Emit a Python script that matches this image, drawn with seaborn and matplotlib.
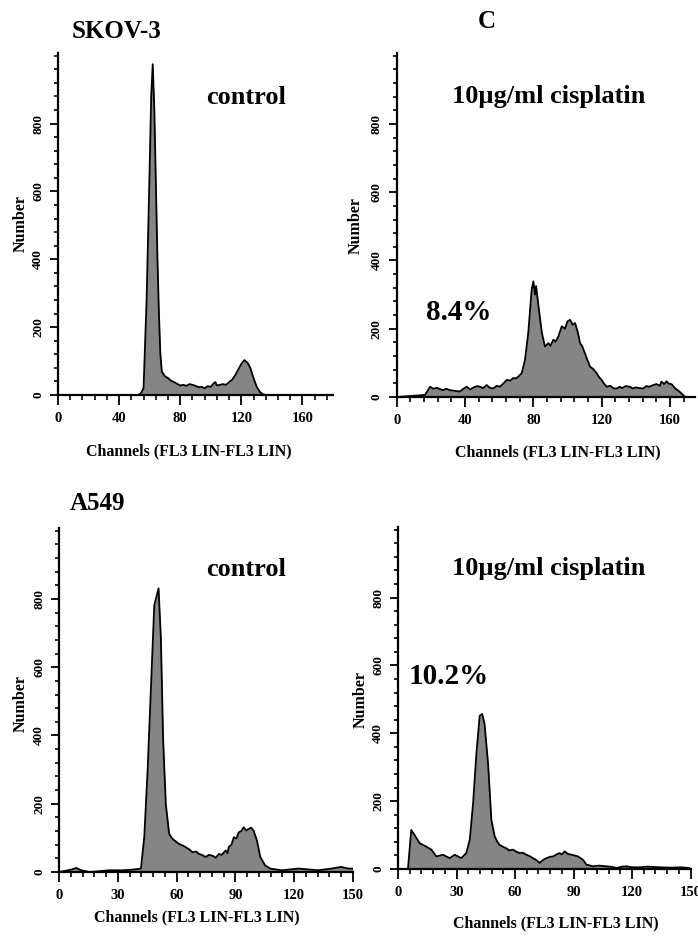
import numpy as np
import pandas as pd
import matplotlib
matplotlib.use("Agg")
import matplotlib.pyplot as plt
import seaborn as sns
from matplotlib.ticker import MultipleLocator

# ---------------- data ----------------
skov_ctrl_ch = [0, 52, 54, 56, 58, 60, 61, 62, 63, 64, 65, 66, 67, 68, 69, 70, 72, 74, 76, 78, 80,
                82, 84, 86, 88, 90, 92, 94, 96, 98, 100, 102, 103, 104, 106, 108, 110, 112, 114,
                116, 118, 120, 122, 124, 125, 126, 128, 130, 132, 134, 136]
skov_ctrl_n = [0, 0, 3, 20, 280, 670, 880, 975, 850, 640, 420, 250, 120, 68, 62, 55, 50, 42, 38, 33, 28,
               30, 27, 32, 30, 27, 23, 24, 20, 26, 24, 35, 38, 28, 30, 32, 30, 38, 45,
               58, 75, 92, 103, 95, 88, 78, 50, 25, 10, 2, 0]

skov_cis_ch = [0, 16.6, 19.5, 21.5, 23.4, 27, 29, 31.2, 34, 37, 39, 41, 43, 45, 47, 48.8, 50.5, 52.7,
               54.5, 56.6, 58.5, 60.5, 62.5, 64.4, 66.5, 68, 70.2, 73.2,
               75.1, 77, 79, 80, 81, 81.6, 83, 85, 86.8, 88.8, 90, 91.7, 93, 94.6, 96.6, 98.5, 100,
               101.5, 103, 104.4, 106, 107.3, 108.5, 110.2, 111.5, 113.2, 115, 117, 118.5, 120, 121.5,
               123, 125, 127, 128.8, 130.5, 132, 134, 136.6, 138, 140, 142, 144.4, 146, 148, 150.2,
               152, 154, 155, 156.5, 158, 159, 161, 163, 165, 166.8, 168.8]
skov_cis_n = [0, 6, 30, 24, 27, 20, 24, 20, 18, 16, 24, 30, 22, 28, 32, 30, 26, 35,
              27, 25, 33, 30, 40, 50, 48, 55, 55, 70,
              109, 187, 315, 339, 300, 325, 266, 187, 148, 158, 150, 168, 162, 177, 207, 200, 222,
              226, 212, 217, 190, 158, 150, 128, 110, 89, 82, 70, 58, 50, 38,
              30, 33, 25, 25, 30, 26, 32, 30, 25, 28, 26, 25, 32, 30, 35,
              38, 33, 45, 38, 46, 40, 37, 25, 18, 10, 0]

a549_ctrl_ch = [0, 6.3, 8.8, 11.3, 15.6, 25.7, 32.5, 37.6, 41.8, 43.5, 45.2, 46.9, 48.6, 50.8, 52,
                53.1, 54.5, 56.2, 57.9, 59.5, 61.3, 63, 64.6, 66.5, 68, 70, 71.4, 73, 74.8, 76.5,
                78.2, 80, 81.6, 83, 85, 86, 86.6, 88, 89.2, 90.5,
                91.7, 93, 94.2, 95.5, 96.8, 98, 99.3, 101, 102.7, 105.2, 107.8, 113.7, 122.2, 132.3,
                139, 144, 147.5, 150]
a549_ctrl_n = [0, 7, 12, 5, 0, 5, 5, 7, 10, 102, 296, 538, 781, 831, 684,
               393, 199, 112, 97, 90, 82, 78, 73, 66, 58, 60, 53, 50, 44, 50,
               48, 42, 53, 50, 63, 55, 73, 80, 102, 98,
               116, 120, 131, 122, 126, 130, 121, 92, 44, 19, 10, 5, 10, 5,
               10, 15, 10, 10]

a549_cis_ch = [0, 5.1, 6.8, 8.5, 11.1, 14.5, 17.1, 19.7, 23.1, 26.5, 29.1, 32.5, 35, 36.8, 38.5,
               40.2, 41.9, 43.2, 44.4, 46.2, 47.9, 49.6, 51, 52.1, 54, 55.6, 57, 59, 61, 62.4, 64,
               65.8, 67.5, 69.2, 71, 72.6, 74.5, 76.1, 78, 79.5, 81, 82.9, 84, 85.5, 87, 88.9, 90.5,
               92.3, 94.9, 96.6, 100, 103, 106.8, 110, 112, 115, 117.1, 120, 123.9, 128,
               134.2, 140, 145, 149.6]
a549_cis_n = [0, 0, 115, 100, 76, 66, 57, 37, 42, 32, 42, 32, 47, 86, 193,
              340, 452, 457, 427, 310, 144, 96, 80, 71, 65, 61, 55, 57, 50, 47, 48,
              42, 38, 32, 26, 18, 27, 32, 36, 37, 42, 47, 43, 52, 45, 42, 40,
              37, 27, 13, 8, 10, 8, 6, 3, 7, 8, 5, 5, 7,
              5, 4, 5, 3]

cell_lines = ["SKOV-3", "A549"]
conditions = ["control", "10\u00b5g/ml cisplatin"]
percent_labels = ["8.4%", "10.2%"]
panel_label = "C"
x_label = "Channels (FL3 LIN-FL3 LIN)"
y_label = "Number"

# ---------------- style ----------------
sns.set_theme(style="ticks")
plt.rcParams['font.family'] = ['Liberation Serif', 'DejaVu Serif']
plt.rcParams['font.weight'] = 'bold'
plt.rcParams['text.color'] = 'black'
plt.rcParams['axes.labelcolor'] = 'black'
plt.rcParams['xtick.color'] = 'black'
plt.rcParams['ytick.color'] = 'black'

W, H = 698, 936
fig = plt.figure(figsize=(W / 100, H / 100), dpi=100)
fig.patch.set_facecolor("white")


def fx(x):
    return x / W


def fy(y):
    return 1 - y / H


def add_ax(l, r, t, b):
    return fig.add_axes([l / W, 1 - b / H, (r - l) / W, (b - t) / H])


panels = [
    # l, r, t, b, xmax, major, minor, ch, n
    (58, 333, 53, 395, 180, 40, 8, skov_ctrl_ch, skov_ctrl_n),
    (396.7, 695, 53, 397, 174.6, 40, 8, skov_cis_ch, skov_cis_n),
    (59, 353, 528, 872, 150, 30, 6, a549_ctrl_ch, a549_ctrl_n),
    (398, 690.5, 527, 869, 150, 30, 6, a549_cis_ch, a549_cis_n),
]

for (l, r, t, b, xmax, maj, mnr, ch, n) in panels:
    ax = add_ax(l, r, t, b)
    df = pd.DataFrame({"ch": ch, "n": n})
    ax.fill_between(df["ch"], df["n"], 0, color="#858585", lw=0, zorder=1)
    sns.lineplot(data=df, x="ch", y="n", ax=ax, color="black", lw=1.3,
                 estimator=None, sort=False, zorder=2)
    ax.set_xlim(0, xmax)
    ax.set_ylim(0, 1008)
    ax.set_xlabel("")
    ax.set_ylabel("")
    ax.set_facecolor("white")
    sns.despine(ax=ax)
    for s in ["left", "bottom"]:
        ax.spines[s].set_linewidth(1.6)
        ax.spines[s].set_color("black")
    ax.xaxis.set_major_locator(MultipleLocator(maj))
    ax.xaxis.set_minor_locator(MultipleLocator(mnr))
    ax.yaxis.set_minor_locator(MultipleLocator(40))
    ax.set_yticks([0, 200, 400, 600, 800])
    ax.tick_params(axis="x", which="major", length=7, width=1.3, direction="out",
                   labelsize=10.5, pad=5, colors="black")
    ax.tick_params(axis="x", which="minor", length=3.5, width=1.2, direction="out")
    ax.tick_params(axis="y", which="major", length=6, width=1.3, direction="out",
                   labelsize=9.5, pad=4, colors="black")
    ax.tick_params(axis="y", which="minor", length=3, width=1.2, direction="out")
    for lab in ax.get_yticklabels():
        lab.set_rotation(90)
        lab.set_va("center")
        lab.set_fontweight("bold")
    for lab in ax.get_xticklabels():
        lab.set_fontweight("bold")

# ---------------- texts ----------------
fig.text(fx(72), fy(32), cell_lines[0], ha="left", va="center", fontsize=18, fontweight="bold")
fig.text(fx(70), fy(503), cell_lines[1], ha="left", va="center", fontsize=18, fontweight="bold")
fig.text(fx(487), fy(22), panel_label, ha="center", va="center", fontsize=18, fontweight="bold")

fig.text(fx(246), fy(97), conditions[0], ha="center", va="center", fontsize=19, fontweight="bold")
fig.text(fx(549), fy(97), conditions[1], ha="center", va="center", fontsize=19, fontweight="bold")
fig.text(fx(246), fy(569), conditions[0], ha="center", va="center", fontsize=19, fontweight="bold")
fig.text(fx(549), fy(568), conditions[1], ha="center", va="center", fontsize=19, fontweight="bold")

fig.text(fx(459), fy(313), percent_labels[0], ha="center", va="center", fontsize=21, fontweight="bold")
fig.text(fx(449), fy(677), percent_labels[1], ha="center", va="center", fontsize=21, fontweight="bold")

for (x, y) in [(189, 451), (558, 452), (197, 917), (556, 923)]:
    fig.text(fx(x), fy(y), x_label, ha="center", va="center", fontsize=11.5, fontweight="bold")
for (x, y) in [(21, 224), (356, 225), (21, 703), (361, 700)]:
    fig.text(fx(x), fy(y), y_label, ha="center", va="center", fontsize=11.5,
             fontweight="bold", rotation=90)

fig.savefig("out.png", dpi=100, facecolor="white")
